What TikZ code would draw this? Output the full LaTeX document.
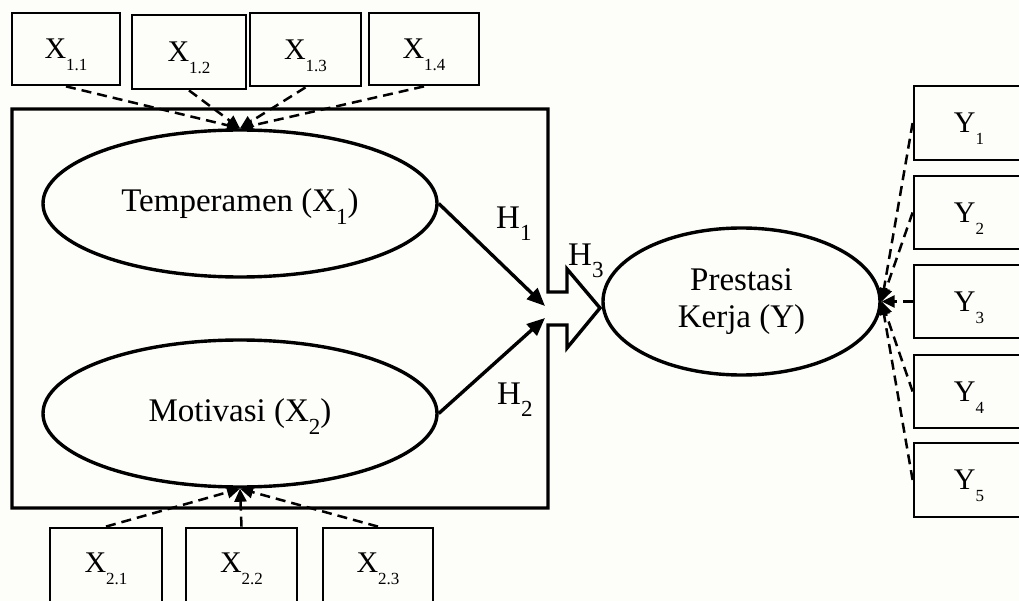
\documentclass[tikz,border=0pt]{standalone}
\usepackage{fontspec}
\setmainfont{Liberation Serif}
\usetikzlibrary{shapes.geometric,arrows.meta}

% lowered subscripts that take no vertical room
\newcommand{\boxsub}[1]{\raisebox{-12pt}[0pt][0pt]{\fontsize{17}{17}\selectfont#1}}
\newcommand{\ellsub}[1]{\raisebox{-13pt}[0pt][0pt]{\fontsize{23}{23}\selectfont#1}}
\newcommand{\hypsub}[1]{\raisebox{-12pt}[0pt][0pt]{\fontsize{23}{23}\selectfont#1}}

\definecolor{paper}{RGB}{253,253,250}

\tikzset{
  indbox/.style={draw, line width=2.8pt, rectangle, inner sep=0pt,
    font=\fontsize{30}{32}\selectfont, text depth=0pt},
  latent/.style={draw, line width=3.4pt, ellipse, inner sep=0pt,
    font=\fontsize{33}{37}\selectfont, align=center},
  hlabel/.style={inner sep=0pt, font=\fontsize{33}{37}\selectfont},
  frameline/.style={draw, line width=3.4pt, line join=miter},
  harrow/.style={line width=3.4pt, -{Triangle[length=18pt,width=15pt]}},
  loading/.style={line width=2.5pt, dash pattern=on 10pt off 6pt,
    -{Triangle[length=13pt,width=12pt]}}
}

\begin{document}
\begin{tikzpicture}[x=1pt,y=-1pt]
  \fill[paper] (0,0) rectangle (1019,601);
  \useasboundingbox (0,0) rectangle (1019,601);

  % indicators of Temperamen
  \node[indbox, minimum width=108, minimum height=72] (x11) at (66,49) {X\boxsub{1.1}};
  \node[indbox, minimum width=114, minimum height=74] (x12) at (189,52) {X\boxsub{1.2}};
  \node[indbox, minimum width=111, minimum height=73] (x13) at (305.5,49.5) {X\boxsub{1.3}};
  \node[indbox, minimum width=110, minimum height=72] (x14) at (424,49) {X\boxsub{1.4}};

  % indicators of Motivasi
  \node[indbox, minimum width=112, minimum height=80, text depth=10pt] (x21) at (106,568) {X\boxsub{2.1}};
  \node[indbox, minimum width=111, minimum height=80, text depth=10pt] (x22) at (241.5,568) {X\boxsub{2.2}};
  \node[indbox, minimum width=110, minimum height=80, text depth=10pt] (x23) at (378,568) {X\boxsub{2.3}};

  % indicators of Prestasi Kerja
  \node[indbox, minimum width=110, minimum height=74] (y1) at (969,123) {Y\boxsub{1}};
  \node[indbox, minimum width=110, minimum height=73] (y2) at (969,212.5) {Y\boxsub{2}};
  \node[indbox, minimum width=110, minimum height=73] (y3) at (969,301.5) {Y\boxsub{3}};
  \node[indbox, minimum width=110, minimum height=73] (y4) at (969,391.5) {Y\boxsub{4}};
  \node[indbox, minimum width=110, minimum height=74] (y5) at (969,480) {Y\boxsub{5}};

  % latent variables
  \node[latent, minimum width=394, minimum height=147] (temp) at (240,203.5) {Temperamen (X\ellsub{1})};
  \node[latent, minimum width=394, minimum height=147] (moti) at (240,413.5) {Motivasi (X\ellsub{2})};
  \node[latent, minimum width=277, minimum height=147] (pk) at (741.5,301.5) {Prestasi\\Kerja (Y)};

  % frame around the independent variables, opening into the block arrow
  \path[frameline] (548,325) -- (548,508) -- (12,508) -- (12,109) -- (548,109)
    -- (548,292) -- (567,292) -- (567,269) -- (600,308) -- (567,348)
    -- (567,325) -- cycle;

  % partial hypotheses
  \coordinate (h1tip) at (545,306);
  \coordinate (h2tip) at (545,318);
  \draw[harrow] (temp.east) -- (h1tip);
  \draw[harrow] (moti.east) -- (h2tip);

  \node[hlabel, anchor=base west] (lh1) at (496,229) {H\hypsub{1}};
  \node[hlabel, anchor=base west] (lh2) at (497,404) {H\hypsub{2}};
  \node[hlabel, anchor=base west] (lh3) at (568,266) {H\hypsub{3}};

  % indicator loadings
  \foreach \b in {x11,x12,x13,x14}
    \draw[loading] (\b.south) -- (temp.north);
  \foreach \b in {x21,x22,x23}
    \draw[loading] (\b.north) -- (moti.south);
  \foreach \b in {y1,y2,y3,y4,y5}
    \draw[loading] (\b.west) -- (pk.east);
\end{tikzpicture}
\end{document}
